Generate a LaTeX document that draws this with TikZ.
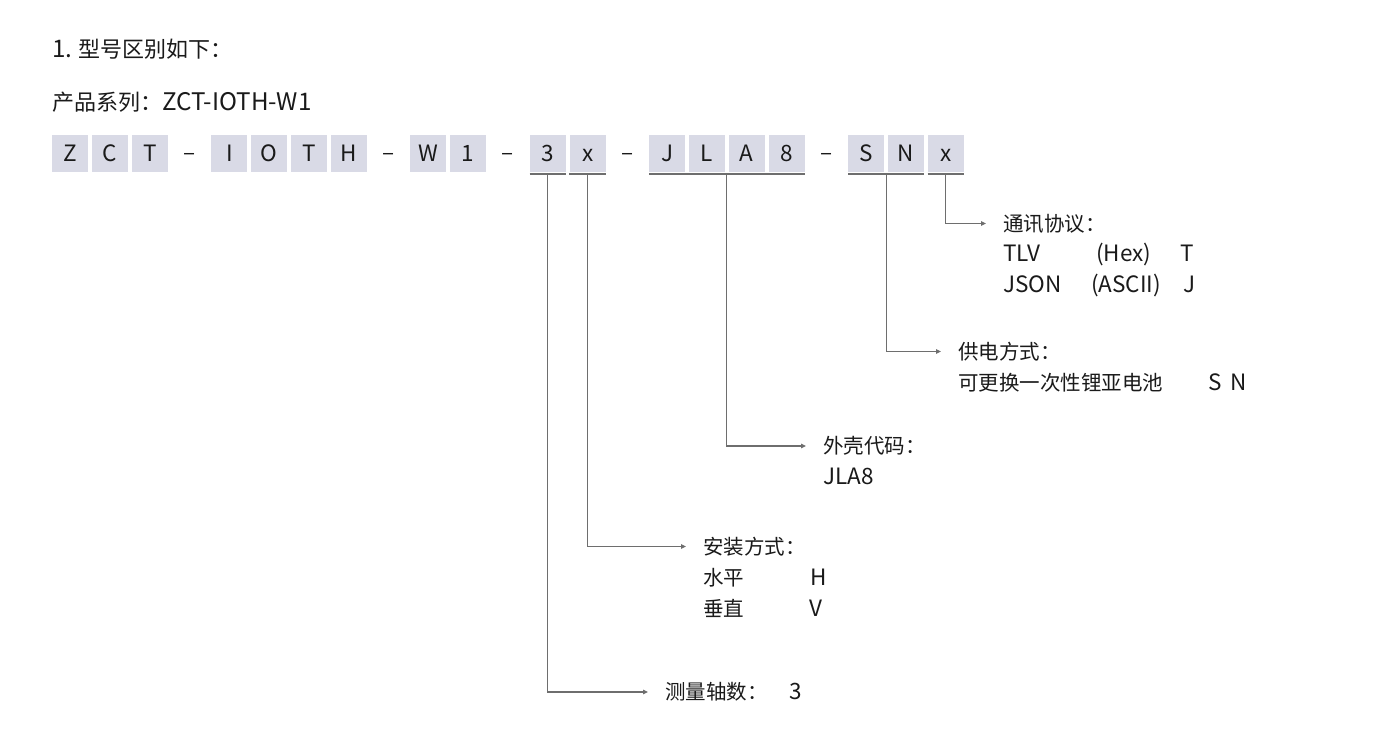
\documentclass[tikz,border=0pt]{standalone}
\usepackage{fontspec}
\setmainfont{Noto Sans CJK SC}
\usetikzlibrary{arrows.meta,calc}
\definecolor{boxfill}{HTML}{D9DAE6}
\definecolor{txt}{HTML}{1A1A1A}
\definecolor{ln}{HTML}{6E6E6E}
\newcommand\lt[1]{{\fontsize{22.5}{26}\selectfont #1}}
\newcommand\lth[1]{{\fontsize{24.2}{28}\selectfont #1}}
\begin{document}
\begin{tikzpicture}[x=1pt,y=-1pt,
  every node/.style={font=\fontsize{20.5}{24}\selectfont, text=txt, inner sep=0pt},
  cell/.style={fill=boxfill, minimum width=36pt, minimum height=37pt, anchor=north west, text height=14.8pt, text depth=0pt},
  lbl/.style={anchor=west, text height=15.6pt, text depth=0pt},
  hdr/.style={lbl, font=\fontsize{22}{26}\selectfont},
  uline/.style={draw=ln, line width=1.4pt},
  conn/.style={draw=ln, line width=1.1pt, -{Triangle[length=5pt,width=4.5pt]}, shorten >=17pt},
]
\useasboundingbox (0,0) rectangle (1400,749);
\fill[white] (0,0) rectangle (1400,749);

% header texts
\node[hdr] (title) at (52,50) {\lth{1.} 型号区别如下：};
\node[hdr] (series) at (52,103) {产品系列：\lth{ZCT-IOTH-W1}};

% code boxes
\foreach \i/\t in {0/Z,1/C,2/T,4/I,5/O,6/T,7/H,9/W,10/1,12/3,13/x,15/J,16/L,17/A,18/8,20/S,21/N,22/x}
  \node[cell] (b\i) at ({52+39.8*\i},135) {\lt{\t}};
\foreach \i in {3,8,11,14,19}
  \node[text height=14.8pt, text depth=0pt] (d\i) at ({52+39.8*\i+18},153.5) {\lt{–}};

% underlines
\draw[uline] ([yshift=-1.5pt]b12.south west) -- ([yshift=-1.5pt]b12.south east);
\draw[uline] ([yshift=-1.5pt]b13.south west) -- ([yshift=-1.5pt]b13.south east);
\draw[uline] ([yshift=-1.5pt]b15.south west) -- ([yshift=-1.5pt]b18.south east);
\draw[uline] ([yshift=-1.5pt]b20.south west) -- ([yshift=-1.5pt]b21.south east);
\draw[uline] ([yshift=-1.5pt]b22.south west) -- ([yshift=-1.5pt]b22.south east);

% labels
\node[lbl] (h5) at (1003,223.5) {通讯协议：};
\node[lbl] (h5a) at (1003,254) {\lt{TLV}};
\node[lbl] (h5b) at (1096,254) {\lt{(Hex)}};
\node[lbl] (h5c) at (1180,254) {\lt{T}};
\node[lbl] (h5d) at (1003,284.5) {\lt{JSON}};
\node[lbl] (h5e) at (1091,284.5) {\lt{(ASCII)}};
\node[lbl] (h5f) at (1183,284.5) {\lt{J}};

\node[lbl] (h4) at (958,351.5) {供电方式：};
\node[lbl] (h4a) at (958,382.5) {可更换一次性锂亚电池};
\node[lbl] (h4b) at (1208,382.5) {\lt{S}};
\node[lbl] (h4c) at (1230,382.5) {\lt{N}};

\node[lbl] (h3) at (823,446) {外壳代码：};
\node[lbl] (h3a) at (823,477) {\lt{JLA8}};

\node[lbl] (h2) at (703,546.5) {安装方式：};
\node[lbl] (h2a) at (703,578) {水平};
\node[lbl] (h2b) at (810,578) {\lt{H}};
\node[lbl] (h2c) at (703,609) {垂直};
\node[lbl] (h2d) at (809,609) {\lt{V}};

\node[lbl] (h1) at (665,692) {测量轴数：};
\node[lbl] (h1a) at (789,692) {\lt{3}};

% connectors
\draw[conn] ([yshift=-1.5pt]b22.south) |- (h5.west);
\draw[conn] ($(b20.south east)!0.5!(b21.south west)+(0,-1.5pt)$) |- (h4.west);
\draw[conn] ($(b16.south east)!0.5!(b17.south west)+(0,-1.5pt)$) |- (h3.west);
\draw[conn] ([yshift=-1.5pt]b13.south) |- (h2.west);
\draw[conn] ([yshift=-1.5pt]b12.south) |- (h1.west);
\end{tikzpicture}
\end{document}
